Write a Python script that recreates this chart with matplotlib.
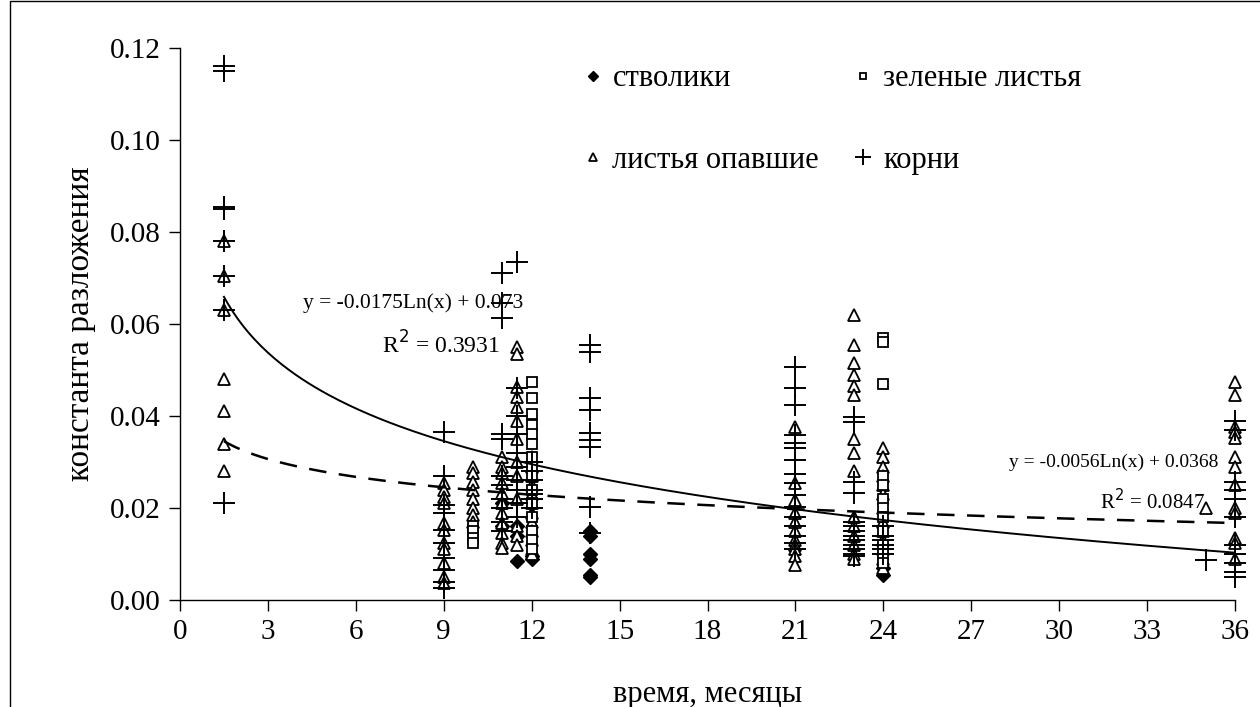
import numpy as np
import matplotlib
matplotlib.use("Agg")
import matplotlib.pyplot as plt
from matplotlib.patches import Rectangle

plt.rcParams['font.family'] = ['Liberation Serif', 'DejaVu Serif']

# ---- data (month, decomposition constant) ----
stems_x = [11, 11, 11.5, 11.5, 11.5, 12, 12, 14, 14, 14, 14, 14, 14, 24, 24]
stems_y = [0.021, 0.016, 0.016, 0.014, 0.0085, 0.009, 0.0095,
           0.015, 0.014, 0.010, 0.009, 0.0055, 0.005, 0.0055, 0.007]

green_x = [10, 10, 10, 10,
           12, 12, 12, 12, 12, 12, 12, 12, 12, 12, 12, 12, 12, 12, 12,
           24, 24, 24, 24, 24, 24, 24, 24, 24, 24, 24, 24]
green_y = [0.016, 0.015, 0.0135, 0.0125,
           0.0475, 0.044, 0.0405, 0.038, 0.036, 0.034, 0.031, 0.029, 0.027,
           0.024, 0.021, 0.018, 0.015, 0.013, 0.011,
           0.057, 0.056, 0.047, 0.027, 0.025, 0.022, 0.020, 0.018, 0.015,
           0.012, 0.010, 0.008]

fallen_x = ([1.5] * 7 + [9] * 11 + [10] * 8 + [11] * 11 + [11.5] * 13 +
            [12] * 12 + [21] * 11 + [23] * 15 + [24] * 13 + [35] + [36] * 13)
fallen_y = [0.078, 0.0705, 0.063, 0.048, 0.041, 0.034, 0.028,
            0.0254, 0.0239, 0.0224, 0.021, 0.0167, 0.0152, 0.0124, 0.011, 0.008, 0.005, 0.0037,
            0.029, 0.0276, 0.0257, 0.024, 0.022, 0.020, 0.0185, 0.017,
            0.031, 0.029, 0.0276, 0.0254, 0.0233, 0.021, 0.019, 0.0167, 0.0146, 0.0124, 0.0113,
            0.055, 0.0535, 0.0464, 0.0442, 0.042, 0.039, 0.035, 0.030, 0.027, 0.022, 0.016, 0.014, 0.012,
            0.031, 0.029, 0.027, 0.025, 0.023, 0.021, 0.019, 0.017, 0.015, 0.013, 0.011, 0.010,
            0.0377, 0.0254, 0.0217, 0.019, 0.017, 0.015, 0.013, 0.012, 0.011, 0.0095, 0.0076,
            0.062, 0.0555, 0.0515, 0.049, 0.0465, 0.0445, 0.035, 0.032, 0.028, 0.018, 0.016,
            0.014, 0.012, 0.010, 0.009,
            0.033, 0.031, 0.029, 0.027, 0.025, 0.023, 0.020, 0.017, 0.015, 0.013, 0.011, 0.009, 0.007,
            0.020,
            0.0475, 0.0446, 0.0377, 0.0366, 0.0353, 0.031, 0.029, 0.025, 0.020, 0.019, 0.0134, 0.0123, 0.009]

roots_x = ([1.5] * 8 + [9] * 10 + [11] * 11 + [11.5] * 10 + [12] * 7 + [14] * 9 +
           [21] * 16 + [23] * 13 + [24] * 6 + [35] + [36] * 11)
roots_y = [0.116, 0.115, 0.0855, 0.085, 0.078, 0.0705, 0.063, 0.021,
           0.0366, 0.027, 0.0207, 0.019, 0.0152, 0.0124, 0.0091, 0.0065, 0.0039, 0.0026,
           0.071, 0.0645, 0.0612, 0.036, 0.035, 0.027, 0.025, 0.022, 0.020, 0.017, 0.015,
           0.0735, 0.046, 0.040, 0.036, 0.032, 0.029, 0.026, 0.024, 0.021, 0.018,
           0.030, 0.028, 0.026, 0.024, 0.023, 0.022, 0.020,
           0.0554, 0.054, 0.0439, 0.0413, 0.0363, 0.0348, 0.0333, 0.0202, 0.0145,
           0.0507, 0.046, 0.0424, 0.0359, 0.0341, 0.033, 0.0304, 0.0275, 0.0254, 0.0228,
           0.0203, 0.018, 0.016, 0.014, 0.0125, 0.011,
           0.0398, 0.0387, 0.0257, 0.0232, 0.017, 0.016, 0.015, 0.014, 0.013, 0.012, 0.011, 0.010, 0.0095,
           0.016, 0.014, 0.013, 0.012, 0.011, 0.010,
           0.0087,
           0.039, 0.037, 0.0256, 0.024, 0.022, 0.018, 0.012, 0.010, 0.008, 0.006, 0.005]

# trend line coefficients (y = a*ln(x) + b)
trend1 = (-0.0175, 0.073)
trend2 = (-0.0056, 0.0368)
trend_range = (1.5, 36)

x_ticks = list(range(0, 37, 3))
y_ticks = [0.00, 0.02, 0.04, 0.06, 0.08, 0.10, 0.12]

# ---- figure ----
fig = plt.figure(figsize=(12.6, 7.07), dpi=100)
ax = fig.add_axes([180 / 1260, 1 - 600 / 707, (1235 - 180) / 1260, (600 - 48) / 707])

ax.plot(stems_x, stems_y, linestyle='none', marker='D', ms=7, mfc='black', mec='black',
        label='стволики', clip_on=False)
ax.plot(fallen_x, fallen_y, linestyle='none', marker='^', ms=9, mfc='white', mec='black',
        mew=1.3, label='листья опавшие', clip_on=False)
ax.plot(green_x, green_y, linestyle='none', marker='s', ms=7, mfc='white', mec='black',
        mew=1.3, label='зеленые листья', clip_on=False)
ax.plot(roots_x, roots_y, linestyle='none', marker='+', ms=16, mec='black', mew=1.4,
        label='корни', clip_on=False)

xt = np.linspace(trend_range[0], trend_range[1], 300)
ax.plot(xt, trend1[0] * np.log(xt) + trend1[1], color='black', lw=1.4)
ax.plot(xt, trend2[0] * np.log(xt) + trend2[1], color='black', lw=1.8, dashes=(7, 5))

ax.text(7.95, 0.0646, 'y = -0.0175Ln(x) + 0.073', fontsize=15.5, ha='center', va='center')
ax.text(8.9, 0.0554, 'R$^2$ = 0.3931', fontsize=17, ha='center', va='center')
ax.text(31.85, 0.0300, 'y = -0.0056Ln(x) + 0.0368', fontsize=14, ha='center', va='center')
ax.text(33.2, 0.0213, 'R$^2$ = 0.0847', fontsize=15, ha='center', va='center')

ax.set_xlim(0, 36)
ax.set_ylim(0, 0.12)
ax.set_xticks(x_ticks)
ax.set_yticks(y_ticks)
ax.set_yticklabels([f'{v:.2f}' for v in y_ticks])
ax.tick_params(direction='out', length=8, width=1, labelsize=21, pad=6)
ax.spines['top'].set_visible(False)
ax.spines['right'].set_visible(False)
for s in ('left', 'bottom'):
    ax.spines[s].set_linewidth(1)

ax.set_xlabel('время, месяцы', fontsize=22)
ax.set_ylabel('константа разложения', fontsize=24)
ax.xaxis.set_label_coords(0.5, -0.145)
ax.yaxis.set_label_coords(-0.08, 0.5)

leg = ax.legend(ncol=2, frameon=False, fontsize=22, loc='upper left',
                bbox_to_anchor=(0.352, 1.02), labelspacing=1.72, columnspacing=1.0,
                handletextpad=0.2, handlelength=0.9, markerscale=0.7)

fig.patches.append(Rectangle((10 / 1260, -0.01), 1.2, 1.0088, transform=fig.transFigure,
                             fill=False, edgecolor='black', lw=1))

fig.savefig('out.png', dpi=100)
